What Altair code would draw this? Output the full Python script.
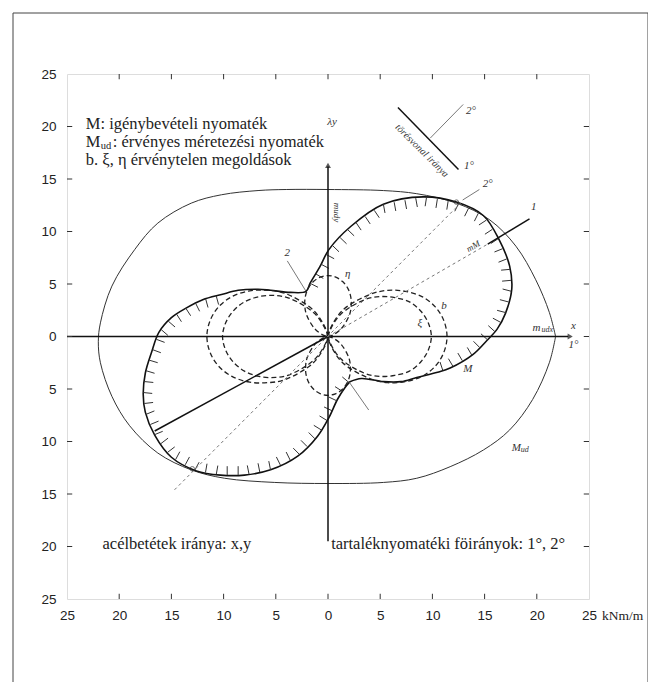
import altair as alt
import pandas as pd

W, H = 522, 525

# ---------------- data ----------------
# M_ud outer curve
mud_x = [21.8, 21.2, 19.9, 18.0, 15.5, 12.3, 8.5, 5.3, 0.0, -4.0, -6.7, -10.2, -13.1, -16.3, -18.5, -20.7,
         -21.8, -22.0, -21.8, -20.7, -19.0, -16.3, -13.1, -9.9, -5.1, 0.0, 5.3, 8.5, 11.7, 14.9, 17.4, 19.6, 21.2, 21.8]
mud_y = [0.0, 2.3, 5.4, 8.6, 11.1, 12.7, 13.6, 13.9, 14.0, 14.0, 13.9, 13.5, 12.7, 10.8, 8.3, 4.8,
         1.3, -0.5, -2.5, -5.7, -8.5, -11.1, -12.7, -13.5, -13.9, -14.0, -13.9, -13.5, -12.4, -10.8, -8.9, -6.0, -2.5, 0.0]

# M curve (starts at lower-right waist kink, counter-clockwise)
m_x = [2.1, 3.2, 5.3, 7.0, 8.5, 10.5, 11.7, 13.9, 15.2, 16.2, 17.0, 17.6, 17.4, 16.4, 14.9, 12.3, 9.1, 5.3, 2.2, 0.1,
       -0.8, -1.7, -2.1, -3.6, -5.5, -6.7, -8.6, -10.2, -12.0, -13.6, -15.0, -16.2, -16.9, -17.5, -17.7, -17.5,
       -16.6, -15.0, -12.6, -10.3, -8.0, -5.5, -2.9, -1.0, 0.1, 0.9, 1.6, 2.1]
m_y = [-4.3, -4.0, -4.3, -4.3, -3.9, -3.4, -3.0, -1.7, -0.4, 0.7, 2.2, 4.5, 6.7, 9.2, 11.5, 12.8, 13.3, 12.6, 10.5, 8.3,
       6.6, 5.1, 4.3, 4.2, 4.4, 4.5, 4.4, 4.0, 3.5, 2.7, 1.8, 0.4, -1.5, -3.5, -5.5, -7.2,
       -9.4, -11.5, -12.8, -13.2, -13.2, -12.7, -11.4, -9.5, -7.7, -6.0, -4.9, -4.3]
hatch_ranges = [(5, 22), (27, 47)]

# dashed curves (xi, eta)
R1_x = [0, 0.2, 1.4, 4.0, 5.7, 7.4, 9.0, 10.3, 11.1, 11.4, 11.1, 10.3, 9.0, 7.4, 5.7, 4.0, 1.4, 0.2, 0]
R1_y = [0, 0.7, 2.5, 4.0, 4.4, 4.3, 3.8, 2.8, 1.5, 0, -1.5, -2.8, -3.8, -4.3, -4.4, -4.0, -2.5, -0.7, 0]
R2_x = [0, 0.2, 1.2, 3.5, 5.0, 6.4, 7.8, 8.9, 9.6, 9.9, 9.6, 8.9, 7.8, 6.4, 5.0, 3.5, 1.2, 0.2, 0]
R2_y = [0, 0.6, 2.1, 3.5, 3.8, 3.7, 3.3, 2.4, 1.3, 0, -1.3, -2.4, -3.3, -3.7, -3.8, -3.5, -2.1, -0.6, 0]
L1_x = [0, -0.2, -1.4, -4.1, -5.8, -7.5, -9.2, -10.5, -11.3, -11.6, -11.3, -10.5, -9.2, -7.5, -5.8, -4.1, -1.4, -0.2, 0]
L1_y = [0, 0.7, 2.5, 4.1, 4.4, 4.35, 3.8, 2.8, 1.5, 0, -1.5, -2.8, -3.8, -4.35, -4.4, -4.1, -2.5, -0.7, 0]
L2_x = [0, -0.2, -1.3, -3.6, -5.0, -6.6, -8.0, -9.1, -9.8, -10.1, -9.8, -9.1, -8.0, -6.6, -5.0, -3.6, -1.3, -0.2, 0]
L2_y = [0, 0.6, 2.2, 3.6, 3.9, 3.8, 3.3, 2.4, 1.3, 0, -1.3, -2.4, -3.3, -3.8, -3.9, -3.6, -2.2, -0.6, 0]
T_x = [0, 0.4, 1.26, 2.05, 2.22, 2.18, 1.9, 1.4, 0.74, 0, -0.74, -1.4, -1.9, -2.18, -2.22, -2.05, -1.26, -0.4, 0]
T_y = [0, 0.1, 0.73, 2.05, 2.89, 3.77, 4.58, 5.23, 5.65, 5.8, 5.65, 5.23, 4.58, 3.77, 2.89, 2.05, 0.73, 0.1, 0]
B_x = [0, 0.39, 1.22, 1.98, 2.14, 2.1, 1.83, 1.35, 0.71, 0, -0.71, -1.35, -1.83, -2.1, -2.14, -1.98, -1.22, -0.39, 0]
B_y = [0, -0.1, -0.7, -1.98, -2.79, -3.64, -4.42, -5.05, -5.46, -5.6, -5.46, -5.05, -4.42, -3.64, -2.79, -1.98, -0.7, -0.1, 0]

# straight construction lines: (x, y, x2, y2)
solid_lines = [
    (-25, 0, 23.0, 0),        # x axis
    (0, -19.5, 0, 16.2),      # y axis
    (0, 0, -16.6, -9.0),      # direction 1 (lower-left)
    (15.3, 8.8, 19.3, 11.2),  # direction 1 (upper-right end)
    (6.7, 21.8, 12.5, 15.9),  # crack line symbol
]
dotted_lines = [
    (0, 0, 15.3, 8.8),        # direction 1
    (-14.7, -14.6, 12.9, 12.9),  # direction 2
]
leader_lines = [
    (-3.9, 7.2, -2.1, 4.3),
    (3.9, -7.0, 2.0, -4.3),
    (12.9, 13.0, 14.5, 14.0),
    (9.8, 18.9, 12.95, 22.1),
]
frame_tick_values = [-20, -15, -10, -5, 0, 5, 10, 15, 20]

legend_lines = [
    ("M: igénybevételi nyomaték", -23.2, 20.2),
    ("M", -23.2, 18.5),
    ("b. \u03be, \u03b7  érvénytelen megoldások", -23.2, 16.8),
    ("acélbetétek iránya:  x,y", -21.6, -19.8),
    ("tartaléknyomatéki föirányok: 1°, 2°", 0.3, -19.8),
]
small_labels = [
    ("M", 13.4, -3.1), ("b", 11.1, 2.9), ("\u03be", 8.8, 1.3), ("\u03b7", 1.9, 6.0),
    ("1", 19.7, 12.3), ("2°", 15.3, 14.5), ("2", -3.9, 8.0), ("x", 23.5, 1.0), ("1°", 23.5, -0.8),
    ("2°", 13.7, 21.5), ("1°", 13.5, 16.2), ("\u03bby", 0.4, 20.4),
]

# ---------------- build tables ----------------
def curve(xs, ys, name):
    return pd.DataFrame({"x": xs, "y": ys, "o": list(range(len(xs))), "id": name})

def segs(rows):
    return pd.DataFrame(rows, columns=["x", "y", "x2", "y2"])

def hatch(xs, ys, ranges, step=1.05, length=0.85):
    rows = []
    for i0, i1 in ranges:
        carry = step / 2
        for i in range(i0, i1):
            x0, y0, x1, y1 = xs[i], ys[i], xs[i + 1], ys[i + 1]
            dx, dy = x1 - x0, y1 - y0
            L = (dx * dx + dy * dy) ** 0.5
            nx, ny = -dy / L, dx / L
            t = carry
            while t < L:
                px, py = x0 + dx * t / L, y0 + dy * t / L
                rows.append((px, py, px + nx * length, py + ny * length))
                t += step
            carry = t - L
    return segs(rows)

xs = alt.Scale(domain=[-25, 25], nice=False, zero=False)
ys = alt.Scale(domain=[-25, 25], nice=False, zero=False)
xaxis = alt.Axis(values=list(range(-25, 26, 5)), labelExpr="abs(datum.value)", title=None, ticks=False,
                 domain=False, grid=False, labelFont="Liberation Sans", labelFontSize=13.5, labelColor="#222",
                 labelPadding=9, labelFlush=False, labelOverlap=False)
yaxis = alt.Axis(values=list(range(-25, 26, 5)), labelExpr="abs(datum.value)", title=None, ticks=False,
                 domain=False, grid=False, labelFont="Liberation Sans", labelFontSize=13.5, labelColor="#222",
                 labelPadding=11, labelOverlap=False)
X = alt.X("x:Q", scale=xs, axis=xaxis)
Y = alt.Y("y:Q", scale=ys, axis=yaxis)

mud_df = curve(mud_x, mud_y, "Mud")
m_df = curve(m_x, m_y, "M")
petal_df = pd.concat([curve(R1_x, R1_y, "R1"), curve(R2_x, R2_y, "R2"), curve(L1_x, L1_y, "L1"),
                      curve(L2_x, L2_y, "L2"), curve(T_x, T_y, "T"), curve(B_x, B_y, "B")])

layers = []
layers.append(alt.Chart(mud_df).mark_line(color="#333", strokeWidth=1, interpolate="catmull-rom")
              .encode(x=X, y=Y, order="o:Q"))
layers.append(alt.Chart(m_df).mark_line(color="#111", strokeWidth=1.6, interpolate="catmull-rom")
              .encode(x=X, y=Y, order="o:Q"))
layers.append(alt.Chart(hatch(m_x, m_y, hatch_ranges)).mark_rule(color="#333", strokeWidth=1)
              .encode(x=X, y=Y, x2="x2:Q", y2="y2:Q"))
layers.append(alt.Chart(petal_df).mark_line(color="#222", strokeWidth=1.3, strokeDash=[5, 3],
                                             interpolate="catmull-rom")
              .encode(x=X, y=Y, order="o:Q", detail="id:N"))
layers.append(alt.Chart(segs(solid_lines)).mark_rule(color="#111", strokeWidth=1.5)
              .encode(x=X, y=Y, x2="x2:Q", y2="y2:Q"))
layers.append(alt.Chart(segs(dotted_lines)).mark_rule(color="#777", strokeWidth=1, strokeDash=[3, 3])
              .encode(x=X, y=Y, x2="x2:Q", y2="y2:Q"))
layers.append(alt.Chart(segs(leader_lines)).mark_rule(color="#555", strokeWidth=0.8)
              .encode(x=X, y=Y, x2="x2:Q", y2="y2:Q"))

# inward ticks on the frame
tk = []
for v in frame_tick_values:
    tk += [(v, -25, v, -24.5), (v, 25, v, 24.5), (-25, v, -24.5, v), (25, v, 24.5, v)]
layers.append(alt.Chart(segs(tk)).mark_rule(color="#333", strokeWidth=1)
              .encode(x=X, y=Y, x2="x2:Q", y2="y2:Q"))

# arrow heads
arr = pd.DataFrame({"x": [23.2, 0], "y": [0, 16.3], "s": ["triangle-right", "triangle-up"]})
layers.append(alt.Chart(arr).mark_point(filled=True, color="#111", size=35)
              .encode(x=X, y=Y, shape=alt.Shape("s:N", scale=None)))

# small circles at touching points
pts = pd.DataFrame({"x": [12.3, -13.0, 0], "y": [12.8, -12.6, 0]})
layers.append(alt.Chart(pts).mark_point(color="#333", size=20, strokeWidth=1).encode(x=X, y=Y))

# legend text
leg = pd.DataFrame(legend_lines, columns=["t", "x", "y"])
layers.append(alt.Chart(leg).mark_text(align="left", baseline="middle", font="Liberation Serif",
                                        fontSize=16.5, color="#222")
              .encode(x=X, y=Y, text="t:N"))
sub = pd.DataFrame([("ud", -23.2, 18.5)], columns=["t", "x", "y"])
layers.append(alt.Chart(sub).mark_text(align="left", baseline="middle", font="Liberation Serif",
                                        fontSize=10.5, color="#222", dx=15, dy=4)
              .encode(x=X, y=Y, text="t:N"))
rest = pd.DataFrame([(": érvényes méretezési nyomaték", -23.2, 18.5)], columns=["t", "x", "y"])
layers.append(alt.Chart(rest).mark_text(align="left", baseline="middle", font="Liberation Serif",
                                         fontSize=16.5, color="#222", dx=27)
              .encode(x=X, y=Y, text="t:N"))

sl = pd.DataFrame(small_labels, columns=["t", "x", "y"])
layers.append(alt.Chart(sl).mark_text(align="center", baseline="middle", font="Liberation Serif",
                                       fontSize=11, fontStyle="italic", color="#333")
              .encode(x=X, y=Y, text="t:N"))

# labels with subscript ud
udl = pd.DataFrame([("M", 17.6, -10.6), ("m", 19.6, 0.8)], columns=["t", "x", "y"])
layers.append(alt.Chart(udl).mark_text(align="left", baseline="middle", font="Liberation Serif",
                                        fontSize=11, fontStyle="italic", color="#333")
              .encode(x=X, y=Y, text="t:N"))
udl2 = pd.DataFrame([("ud", 17.6, -10.6), ("udx", 19.6, 0.8)], columns=["t", "x", "y"])
layers.append(alt.Chart(udl2).mark_text(align="left", baseline="middle", font="Liberation Serif",
                                         fontSize=8, fontStyle="italic", color="#333", dx=9, dy=2)
              .encode(x=X, y=Y, text="t:N"))
rot = pd.DataFrame([("mudy", 0.9, 11.8)], columns=["t", "x", "y"])
layers.append(alt.Chart(rot).mark_text(align="center", baseline="middle", font="Liberation Serif",
                                        fontSize=9, fontStyle="italic", color="#333", angle=90)
              .encode(x=X, y=Y, text="t:N"))
rot2 = pd.DataFrame([("mM", 13.9, 8.6)], columns=["t", "x", "y"])
layers.append(alt.Chart(rot2).mark_text(align="center", baseline="middle", font="Liberation Serif",
                                         fontSize=9, fontStyle="italic", color="#333", angle=330)
              .encode(x=X, y=Y, text="t:N"))
rot3 = pd.DataFrame([("törésvonal iránya", 9.0, 17.7)], columns=["t", "x", "y"])
layers.append(alt.Chart(rot3).mark_text(align="center", baseline="middle", font="Liberation Serif",
                                         fontSize=10, fontStyle="italic", color="#333", angle=45)
              .encode(x=X, y=Y, text="t:N"))

# unit label and page border
layers.append(alt.Chart(pd.DataFrame({"t": ["kNm/m"]})).mark_text(
    align="left", baseline="middle", font="Liberation Serif", fontSize=13.5, color="#222")
    .encode(x=alt.value(W + 13), y=alt.value(H + 17), text="t:N"))
layers.append(alt.Chart(pd.DataFrame({"a": [0]})).mark_rect(fill=None, stroke="#444", strokeWidth=1)
              .encode(x=alt.value(-54), x2=alt.value(W + 59), y=alt.value(-61), y2=alt.value(H + 100)))

chart = alt.layer(*layers).properties(
    width=W, height=H, autosize="none",
    padding={"left": 59, "top": 66, "right": 59, "bottom": 83},
).configure_view(stroke="#333", strokeWidth=1).configure(background="white")

chart.save("out.html", embed_options={"renderer": "svg", "actions": False})
